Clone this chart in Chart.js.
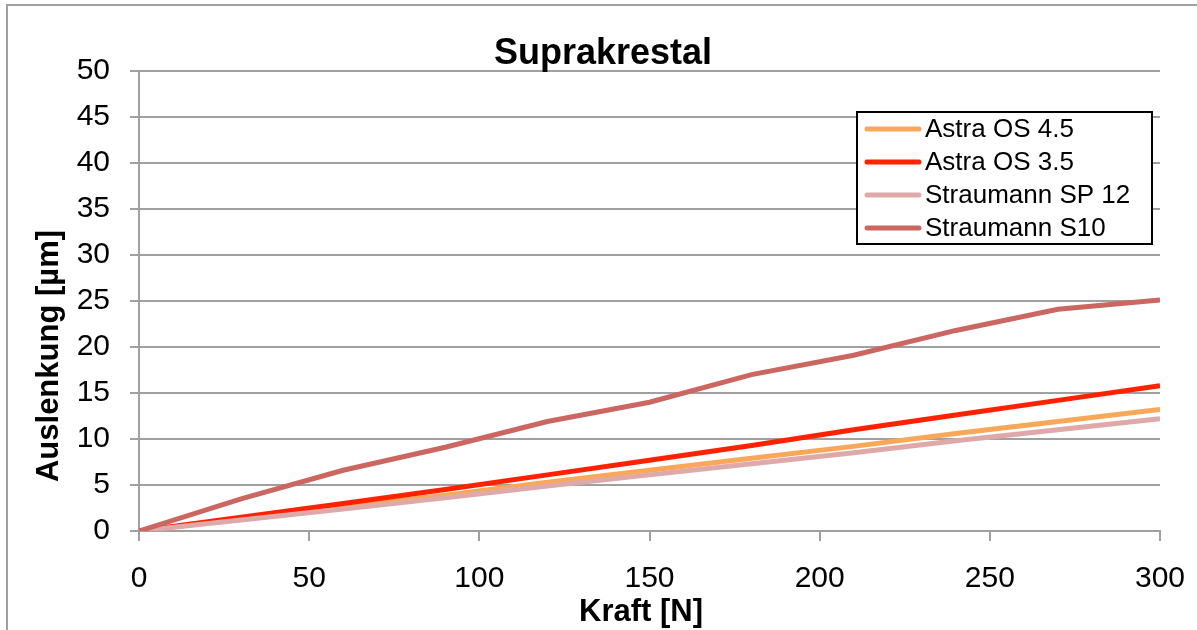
<!DOCTYPE html>
<html>
<head>
<meta charset="utf-8">
<script src="https://cdn.jsdelivr.net/npm/chart.js@4/dist/chart.umd.min.js"></script>
<style>
    html, body { margin: 0; padding: 0; background: #ffffff; }
    #wrap { width: 1197px; height: 630px; position: relative; }
</style>
</head>
<body>
<div id="wrap"><canvas id="chart"></canvas></div>
<script>
// Kraft [N] on the x axis
const force = [0, 30, 60, 90, 120, 150, 180, 210, 240, 270, 300];

// Auslenkung [µm] per implant
const astraOS45 = [0, 1.3, 2.6, 3.9, 5.3, 6.6, 7.9, 9.2, 10.6, 11.9, 13.2];
const astraOS35 = [0, 1.5, 3.0, 4.5, 6.1, 7.7, 9.3, 11.0, 12.6, 14.2, 15.8];
const straumannSP12 = [0, 1.2, 2.4, 3.6, 4.9, 6.1, 7.3, 8.5, 9.8, 11.0, 12.2];
const straumannS10 = [0, 3.5, 6.6, 9.1, 11.9, 14.0, 17.0, 19.1, 21.8, 24.1, 25.1];

const seriesNames = ['Astra OS 4.5', 'Astra OS 3.5', 'Straumann SP 12', 'Straumann S10'];
const seriesColors = ['#f9a85a', '#ff2200', '#e0a9a9', '#cb6760'];

const FONT = '"Liberation Sans", Arial, sans-serif';
const GRID = '#a0a0a0';

function toPoints(values) {
    return force.map((f, i) => ({ x: f, y: values[i] }));
}

// frame, titles and the boxed legend inside the plot
const decorations = {
    id: 'decorations',
    beforeDraw(chart) {
        const ctx = chart.ctx;
        ctx.save();
        ctx.fillStyle = '#ffffff';
        ctx.fillRect(0, 0, chart.width, chart.height);
        ctx.strokeStyle = GRID;
        ctx.lineWidth = 2;
        ctx.beginPath();
        ctx.moveTo(7, chart.height + 5);
        ctx.lineTo(7, 5);
        ctx.lineTo(chart.width + 5, 5);
        ctx.stroke();
        ctx.restore();
    },
    afterDraw(chart) {
        const ctx = chart.ctx;
        ctx.save();
        ctx.fillStyle = '#000000';
        ctx.textAlign = 'center';

        ctx.font = 'bold 36px ' + FONT;
        ctx.textBaseline = 'alphabetic';
        ctx.fillText('Suprakrestal', 603, 64);

        ctx.font = 'bold 31px ' + FONT;
        ctx.textBaseline = 'middle';
        ctx.fillText('Kraft [N]', 641, 612);

        ctx.translate(49, 356);
        ctx.rotate(-Math.PI / 2);
        ctx.fillText('Auslenkung [µm]', 0, 0);
        ctx.restore();

        // legend
        ctx.save();
        const lx = 857, ly = 112, lw = 295, lh = 132;
        ctx.fillStyle = '#ffffff';
        ctx.fillRect(lx, ly, lw, lh);
        ctx.strokeStyle = '#000000';
        ctx.lineWidth = 2;
        ctx.strokeRect(lx, ly, lw, lh);
        ctx.font = '26px ' + FONT;
        ctx.textAlign = 'left';
        ctx.textBaseline = 'middle';
        ctx.lineCap = 'round';
        seriesNames.forEach((name, i) => {
            const y = ly + 17 + i * 33;
            ctx.strokeStyle = seriesColors[i];
            ctx.lineWidth = 5;
            ctx.beginPath();
            ctx.moveTo(867, y);
            ctx.lineTo(919, y);
            ctx.stroke();
            ctx.fillStyle = '#000000';
            ctx.fillText(name, 925, y + 1);
        });
        ctx.restore();
    }
};

const allSeries = [astraOS45, astraOS35, straumannSP12, straumannS10];

new Chart(document.getElementById('chart'), {
    type: 'line',
    data: {
        datasets: allSeries.map((values, i) => ({
            label: seriesNames[i],
            data: toPoints(values),
            borderColor: seriesColors[i],
            backgroundColor: seriesColors[i],
            borderWidth: 5,
            pointRadius: 0,
            tension: 0,
            fill: false,
            order: allSeries.length - i
        }))
    },
    options: {
        responsive: true,
        maintainAspectRatio: false,
        animation: false,
        layout: { padding: { left: 0, right: 37, top: 71, bottom: 0 } },
        plugins: {
            legend: { display: false },
            title: { display: false },
            tooltip: { enabled: false }
        },
        scales: {
            x: {
                type: 'linear',
                min: 0,
                max: 300,
                afterFit: (scale) => {
                    scale.height = 99;
                    scale.paddingLeft = 0;
                    scale.paddingRight = 0;
                },
                ticks: {
                    stepSize: 50,
                    padding: 20,
                    color: '#000000',
                    maxRotation: 0,
                    font: { family: FONT, size: 30 }
                },
                grid: {
                    drawOnChartArea: false,
                    drawTicks: true,
                    tickLength: 10,
                    color: GRID,
                    lineWidth: 2
                },
                border: { color: GRID, width: 2 }
            },
            y: {
                min: 0,
                max: 50,
                afterFit: (scale) => { scale.width = 139; },
                ticks: {
                    stepSize: 5,
                    padding: 20,
                    color: '#000000',
                    font: { family: FONT, size: 30 }
                },
                grid: {
                    color: GRID,
                    lineWidth: 2,
                    tickLength: 9
                },
                border: { color: GRID, width: 2 }
            }
        }
    },
    plugins: [decorations]
});
</script>
</body>
</html>
